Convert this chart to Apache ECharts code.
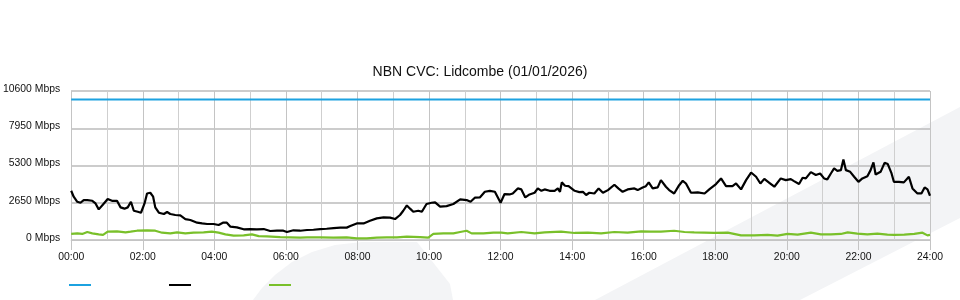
<!DOCTYPE html>
<html>
<head>
<meta charset="utf-8">
<script src="https://cdn.jsdelivr.net/npm/echarts@6/dist/echarts.min.js"></script>
<style>html,body{margin:0;padding:0;background:#fff;}#c{width:960px;height:300px;}</style>
</head>
<body>
<div id="c"></div>
<script>
// ---- data (hours of day, Mbps) ----
const titleText = 'NBN CVC: Lidcombe (01/01/2026)';
const yTicks = [0, 2650, 5300, 7950, 10600];
const xTickHours = [0, 2, 4, 6, 8, 10, 12, 14, 16, 18, 20, 22, 24];

const capacityTimes = [0, 24];
const capacityValues = [10000, 10000];

const downloadTimes = [
  0.00,0.07,0.17,0.26,0.35,0.45,0.59,0.68,0.77,0.89,1.02,1.14,1.28,1.38,1.49,1.58,1.67,1.75,1.86,1.95,
  2.05,2.12,2.21,2.29,2.35,2.45,2.59,2.68,2.77,2.91,3.05,3.19,3.33,3.52,3.66,3.80,3.98,4.12,4.24,4.35,
  4.45,4.63,4.82,5.00,5.19,5.38,5.56,5.75,5.93,6.03,6.21,6.40,6.59,6.77,6.96,7.14,7.33,7.52,7.70,7.80,
  7.98,8.17,8.35,8.54,8.73,8.91,9.05,9.19,9.28,9.38,9.47,9.56,9.70,9.80,9.93,10.07,10.17,10.31,10.49,10.68,
  10.87,11.05,11.16,11.28,11.42,11.56,11.70,11.84,12.00,12.11,12.25,12.34,12.48,12.58,12.69,12.81,12.95,13.04,13.14,13.23,
  13.37,13.51,13.60,13.66,13.71,13.80,13.90,14.07,14.20,14.30,14.39,14.48,14.62,14.74,14.86,15.00,15.18,15.29,15.41,15.55,
  15.74,15.83,15.97,16.06,16.14,16.25,16.39,16.48,16.62,16.71,16.85,16.99,17.09,17.18,17.32,17.51,17.70,17.84,18.02,18.16,
  18.30,18.48,18.58,18.72,18.86,19.00,19.14,19.26,19.37,19.51,19.65,19.83,19.97,20.11,20.20,20.34,20.44,20.53,20.67,20.81,
  20.93,21.04,21.13,21.23,21.32,21.41,21.51,21.58,21.65,21.77,21.88,22.00,22.11,22.25,22.34,22.42,22.48,22.62,22.73,22.82,
  22.92,22.99,23.13,23.27,23.41,23.51,23.65,23.76,23.85,23.93,24.00
];
const downloadValues = [
  3500,3080,2720,2650,2840,2840,2790,2600,2180,2530,2910,2790,2790,2320,2230,2320,2720,2080,2010,1940,
  2600,3310,3360,3080,2320,1940,1850,1990,1850,1780,1750,1490,1420,1230,1180,1140,1140,1070,1230,1230,
  950,900,760,780,760,780,640,660,660,570,690,660,710,730,780,800,850,880,880,990,
  1180,1180,1370,1540,1610,1590,1490,1780,2080,2460,2230,2010,2080,2010,2560,2650,2680,2370,2410,2560,
  2890,2840,2720,3010,3030,3430,3500,3430,2650,3270,3240,3310,3670,3600,3030,3240,3360,3670,3500,3600,
  3500,3500,3670,3430,4100,3860,3830,3500,3410,3430,3200,3360,3310,3670,3360,3550,3930,3670,3430,3600,
  3670,3550,3740,3830,4100,3670,3740,4260,3790,3550,3310,3900,4210,4020,3360,3390,3310,3620,3980,4380,
  3830,3830,4020,3600,4260,4800,4500,4020,4350,4070,3790,4380,4260,4330,4190,3980,4430,4380,4830,4620,
  4730,4380,4310,4730,5090,4920,4970,5730,4970,4850,4500,4140,4380,4540,4970,5520,4660,4850,5490,5400,
  4780,4140,4140,4100,4500,3670,3310,3310,3740,3600,3150
];

const uploadTimes = [
  0.00,0.17,0.31,0.45,0.59,0.77,0.89,1.02,1.28,1.52,1.66,1.84,2.12,2.35,2.54,2.77,2.96,3.19,3.42,3.70,
  3.93,4.12,4.31,4.54,4.82,5.05,5.24,5.47,5.84,6.12,6.40,6.59,6.96,7.33,7.70,7.98,8.26,8.54,8.82,9.10,
  9.38,9.75,9.98,10.12,10.40,10.68,10.87,11.05,11.19,11.52,11.80,12.02,12.20,12.58,12.95,13.23,13.69,14.07,14.44,14.81,
  15.18,15.55,15.93,16.20,16.48,16.85,17.14,17.41,17.69,17.97,18.35,18.72,19.09,19.46,19.74,20.02,20.30,20.67,20.95,21.23,
  21.51,21.70,21.97,22.25,22.53,22.81,23.00,23.28,23.56,23.79,23.93,24.00
];
const uploadValues = [
  430,470,430,570,470,400,360,590,620,540,590,660,690,660,520,470,540,470,520,540,
  590,520,400,310,330,400,280,260,210,190,170,190,190,170,190,120,120,170,190,190,
  240,210,170,430,470,470,570,660,470,470,520,520,470,570,470,540,590,500,520,470,
  570,520,620,590,590,660,570,540,520,500,520,330,330,360,310,430,380,520,400,400,
  430,540,450,400,450,380,360,380,430,520,330,360
];

const pair = (ts, vs) => ts.map((t, i) => [t, vs[i]]);
const pad = n => (n < 10 ? '0' : '') + n;

const chart = echarts.init(document.getElementById('c'), null, { renderer: 'canvas' });
const FONT = '"Liberation Sans", Arial, sans-serif';
chart.setOption({
  animation: false,
  backgroundColor: '#ffffff',
  title: {
    text: titleText,
    left: 'center',
    top: 60,
    textStyle: { fontFamily: FONT, fontSize: 14, fontWeight: 'normal', color: '#111' }
  },
  graphic: [
    { type: 'polygon', z: -10, silent: true,
      shape: { points: [[595, 300], [960, 107], [960, 218], [800, 300]] },
      style: { fill: '#f3f4f6' } },
    { type: 'polygon', z: -10, silent: true,
      shape: { points: [[253, 300], [262, 288], [275, 275], [292, 262], [312, 252], [335, 245], [362, 242], [417, 242], [450, 284], [453, 300]] },
      style: { fill: '#f3f4f6' } }
  ],
  legend: {
    left: 69,
    top: 284,
    padding: 0,
    itemWidth: 22,
    itemHeight: 2,
    itemGap: 78,
    icon: 'rect',
    formatter: () => '',
    textStyle: { fontSize: 1 },
    data: ['Capacity', 'Download', 'Upload']
  },
  grid: { left: 70, right: 30, top: 91, bottom: 60, containLabel: false },
  xAxis: {
    type: 'value',
    min: 0,
    max: 24,
    interval: 2,
    axisLine: { show: true, lineStyle: { color: '#c4c4c4' } },
    axisTick: { show: true, length: 10, lineStyle: { color: '#c4c4c4' } },
    axisLabel: {
      margin: 12,
      fontFamily: FONT, fontSize: 10.4, color: '#111',
      formatter: v => pad(v) + ':00'
    },
    splitLine: { show: true, lineStyle: { color: '#c4c4c4', width: 1 } },
    minorTick: { show: false, splitNumber: 2 },
    minorSplitLine: { show: true, lineStyle: { color: '#cfcfcf', width: 1 } }
  },
  yAxis: {
    type: 'value',
    min: yTicks[0],
    max: yTicks[yTicks.length - 1],
    interval: 2650,
    axisLine: { show: true, lineStyle: { color: '#c4c4c4' } },
    axisTick: { show: false },
    axisLabel: {
      margin: 11,
      fontFamily: FONT, fontSize: 10.4, color: '#111',
      verticalAlign: 'bottom',
      lineHeight: 4,
      formatter: v => v + ' Mbps'
    },
    splitLine: { show: true, lineStyle: { color: '#bbbbbb', width: 1.5 } }
  },
  series: [
    { name: 'Capacity', type: 'line', data: pair(capacityTimes, capacityValues),
      showSymbol: false, lineStyle: { color: '#1ca2e0', width: 2 }, itemStyle: { color: '#1ca2e0' }, z: 3 },
    { name: 'Download', type: 'line', data: pair(downloadTimes, downloadValues),
      showSymbol: false, lineStyle: { color: '#000000', width: 2.2 }, itemStyle: { color: '#000000' }, z: 4 },
    { name: 'Upload', type: 'line', data: pair(uploadTimes, uploadValues),
      showSymbol: false, lineStyle: { color: '#79c02a', width: 2.2 }, itemStyle: { color: '#79c02a' }, z: 5 }
  ]
});
</script>
</body>
</html>
